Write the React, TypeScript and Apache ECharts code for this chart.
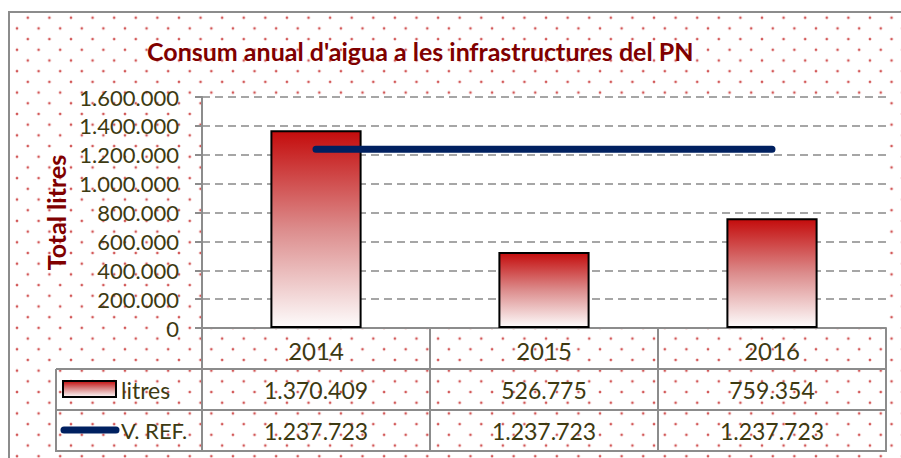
import React, { useEffect, useRef } from "react";
import * as echarts from "echarts";

const title = "Consum anual d'aigua a les infrastructures del PN";
const yAxisName = "Total litres";
const categories = ["2014", "2015", "2016"];
const litresName = "litres";
const litres = [1370409, 526775, 759354];
const refName = "V. REF.";
const refValues = [1237723, 1237723, 1237723];
const yMin = 0;
const yMax = 1600000;
const yInterval = 200000;

const fmt = (n: number) =>
  String(n).replace(/\B(?=(\d{3})+(?!\d))/g, ".");

const FONT = "Lato";
const TXT = "#3d3a12";
const RED = "#7f0000";
const LINE = "#8c8c8c";

// layout (page coordinates)
const GL = 202;
const GR = 886;
const GT = 97;
const GB = 328;
const ROW1 = 369;
const ROW2 = 410;
const ROW3 = 451;
const KEYL = 56;

export default function App() {
  const ref = useRef<HTMLDivElement>(null);
  useEffect(() => {
    if (!ref.current) return;
    const chart = echarts.init(ref.current, null, { renderer: "svg" });
    const colW = (GR - GL) / categories.length;
    const barGrad = () =>
      new echarts.graphic.LinearGradient(0, 0, 0, 1, [
        { offset: 0, color: "#c40c0c" },
        { offset: 0.5, color: "#dc8c8c" },
        { offset: 1, color: "#fdfbfb" },
      ]);
    const tableText: any[] = [];
    categories.forEach((_, i) => {
      const cx = GL + colW * (i + 0.5);
      tableText.push({
        type: "text",
        x: cx,
        y: (ROW1 + ROW2) / 2,
        style: {
          text: fmt(litres[i]),
          fill: TXT,
          font: `23px ${FONT}`,
          align: "center",
          verticalAlign: "middle",
        },
      });
      tableText.push({
        type: "text",
        x: cx,
        y: (ROW2 + ROW3) / 2,
        style: {
          text: fmt(refValues[i]),
          fill: TXT,
          font: `23px ${FONT}`,
          align: "center",
          verticalAlign: "middle",
        },
      });
    });
    const hLine = (y: number, x1: number) => ({
      type: "line",
      shape: { x1, y1: y, x2: GR + 1, y2: y },
      style: { stroke: LINE, lineWidth: 2 },
    });
    chart.setOption({
      animation: false,
      title: {
        text: title,
        left: 142,
        top: 33,
        textStyle: {
          fontFamily: FONT,
          fontSize: 25,
          fontWeight: "bold",
          color: RED,
        },
      },
      grid: {
        left: GL,
        right: 901 - GR,
        top: GT,
        bottom: 458 - GB,
        show: true,
        backgroundColor: "#ffffff",
        borderWidth: 0,
      },
      xAxis: {
        type: "category",
        data: categories,
        axisLine: { show: true, lineStyle: { color: LINE, width: 2 } },
        axisTick: {
          show: true,
          length: ROW3 - GB,
          lineStyle: { color: LINE, width: 2 },
        },
        axisLabel: {
          margin: 10,
          color: TXT,
          fontFamily: FONT,
          fontSize: 24,
        },
      },
      yAxis: {
        type: "value",
        min: yMin,
        max: yMax,
        interval: yInterval,
        name: yAxisName,
        nameLocation: "middle",
        nameRotate: 90,
        nameGap: 131,
        nameTextStyle: {
          fontFamily: FONT,
          fontSize: 25,
          fontWeight: "bold",
          color: RED,
        },
        axisLine: { show: true, lineStyle: { color: LINE, width: 2 } },
        axisTick: { show: true, length: 7, lineStyle: { color: LINE, width: 2 } },
        axisLabel: {
          margin: 23,
          color: TXT,
          fontFamily: FONT,
          fontSize: 22,
          formatter: (v: number) => fmt(v),
        },
        splitLine: {
          show: true,
          lineStyle: { color: "#a6a6a6", width: 2, type: [8, 5] },
        },
      },
      series: [
        {
          name: litresName,
          type: "bar",
          data: litres,
          barWidth: "40%",
          itemStyle: {
            color: barGrad(),
            borderColor: "#000000",
            borderWidth: 2,
          },
        },
        {
          name: refName,
          type: "line",
          data: refValues,
          symbol: "none",
          lineStyle: { color: "#002060", width: 7, cap: "round" },
        },
      ],
      graphic: [
        hLine(ROW1, KEYL),
        hLine(ROW2, KEYL),
        hLine(ROW3, KEYL),
        {
          type: "line",
          shape: { x1: KEYL, y1: ROW1, x2: KEYL, y2: ROW3 + 1 },
          style: { stroke: LINE, lineWidth: 2 },
        },
        {
          type: "rect",
          shape: { x: 63, y: 381, width: 53, height: 16 },
          style: { fill: barGrad(), stroke: "#000", lineWidth: 2 },
        },
        {
          type: "text",
          x: 121,
          y: (ROW1 + ROW2) / 2,
          style: {
            text: litresName,
            fill: TXT,
            font: `23px ${FONT}`,
            align: "left",
            verticalAlign: "middle",
          },
        },
        {
          type: "line",
          shape: { x1: 64, y1: 430, x2: 116, y2: 430 },
          style: { stroke: "#002060", lineWidth: 7, lineCap: "round" },
        },
        {
          type: "text",
          x: 121,
          y: (ROW2 + ROW3) / 2,
          style: {
            text: refName,
            fill: TXT,
            font: `22px ${FONT}`,
            align: "left",
            verticalAlign: "middle",
          },
        },
        ...tableText,
      ],
    });
    return () => chart.dispose();
  }, []);

  const dot =
    "radial-gradient(circle, rgba(205,70,70,0.9) 1px, rgba(205,70,70,0) 1.7px)";
  return (
    <div
      style={{
        position: "fixed",
        left: 0,
        top: 0,
        width: 901,
        height: 458,
        overflow: "hidden",
        background: "#ffffff",
      }}
    >
      <div
        style={{
          position: "absolute",
          left: 8,
          top: 11,
          width: 920,
          height: 480,
          border: `2px solid ${LINE}`,
          backgroundImage: `${dot}, ${dot}`,
          backgroundSize: "21.6px 21.4px",
          backgroundPosition: "7px -6px, 17.8px 4.7px",
        }}
      />
      <div
        ref={ref}
        style={{ position: "absolute", left: 0, top: 0, width: 901, height: 458 }}
      />
    </div>
  );
}
